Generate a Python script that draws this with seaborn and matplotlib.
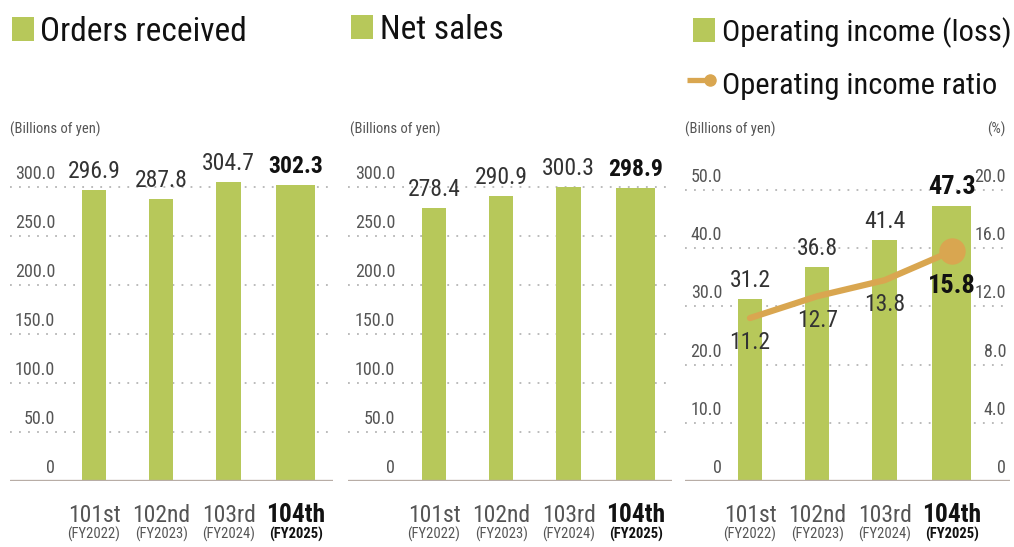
import matplotlib
matplotlib.use("Agg")
import matplotlib.pyplot as plt
from matplotlib import font_manager
from matplotlib.lines import Line2D
from matplotlib.patches import Rectangle
import seaborn as sns
import pandas as pd

# data
periods = ["101st", "102nd", "103rd", "104th"]
fiscal_years = ["(FY2022)", "(FY2023)", "(FY2024)", "(FY2025)"]
orders_received = [296.9, 287.8, 304.7, 302.3]
net_sales = [278.4, 290.9, 300.3, 298.9]
operating_income = [31.2, 36.8, 41.4, 47.3]
operating_ratio = [11.2, 12.7, 13.8, 15.8]

sales_ticks = [0, 50, 100, 150, 200, 250, 300]
income_ticks = [0, 10, 20, 30, 40, 50]
ratio_ticks = [0, 4, 8, 12, 16, 20]

GREEN = "#b7c85a"
GOLD = "#d9a650"
GRID = "#b5b5b5"
BASE = "#b8ada6"
TXT = "#333333"
TICK = "#555555"

sns.set_theme(style="white")

# the reference uses a narrow face; take a condensed one if there is one
fonts = font_manager.fontManager.ttflist
names = {f.name for f in fonts}
FONT, SCALE = "Lato", 0.9
for cand in ["Roboto Condensed", "Liberation Sans Narrow", "Noto Sans Condensed",
             "Open Sans Condensed"]:
    if cand in names:
        FONT, SCALE = cand, 1.0
        break
plt.rcParams["font.family"] = [FONT, "DejaVu Sans"]

HEAD = 24 * (0.81 if SCALE < 1 else 1.0)
HEAD3 = HEAD * 0.915  # the long headers of panel 3 have to fit the figure
VAL = 17 * SCALE
TK = 13 * SCALE
SMALL = 10.5 * SCALE

W, H = 1014, 547
fig = plt.figure(figsize=(W / 100, H / 100), dpi=100)

AX_TOP = 150
BASE_Y = 481
STEP = 67.3  # px between bar centres


def px_axes(x0, x1):
    return fig.add_axes([x0 / W, 1 - BASE_Y / H, (x1 - x0) / W, (BASE_Y - AX_TOP) / H])


def fmt(t):
    return "0" if t == 0 else f"{t:.1f}"


def bar_panel(ax, values, ticks, grid_px, x0, x1, first_center, label_px, big=1.0):
    df = pd.DataFrame({"period": periods, "value": values})
    sns.barplot(data=df, x="period", y="value", ax=ax, color=GREEN, width=0.36,
                saturation=1, errorbar=None, linewidth=0, zorder=2)
    # the current year is drawn as a wider bar
    p = ax.patches[-1]
    cx = p.get_x() + p.get_width() / 2
    p.set_width(0.58)
    p.set_x(cx - 0.29)

    left = -(first_center - x0) / STEP
    ax.set_xlim(left, left + (x1 - x0) / STEP)
    ax.set_ylim(0, ticks[-1] * (BASE_Y - AX_TOP) / (BASE_Y - grid_px))
    ax.set_axis_off()

    for t in ticks[1:]:
        ax.axhline(t, color=GRID, lw=1.3, ls=(0, (1, 4)), zorder=0)
    ax.axhline(0, color=BASE, lw=2.4, zorder=3)

    lx = (label_px - x0) / (x1 - x0)
    for t in ticks:
        ax.annotate(fmt(t), xy=(lx, t), xycoords=("axes fraction", "data"),
                    xytext=(0, 4), textcoords="offset pixels",
                    ha="right", va="bottom", fontsize=TK, color=TICK)

    for i, v in enumerate(values):
        last = i == len(values) - 1
        ax.annotate(f"{v:.1f}", xy=(i, v), xytext=(0, 12), textcoords="offset pixels",
                    ha="center", va="baseline",
                    fontsize=VAL * big if last else VAL,
                    fontweight="bold" if last else "normal",
                    color="#111111" if last else TXT)

    for i, (p_lab, fy) in enumerate(zip(periods, fiscal_years)):
        last = i == len(periods) - 1
        ax.annotate(p_lab, xy=(i, 0), xytext=(0, -41), textcoords="offset pixels",
                    ha="center", va="baseline", fontsize=VAL * 1.08 if last else VAL,
                    fontweight="bold" if last else "normal",
                    color="#111111" if last else TICK)
        ax.annotate(fy, xy=(i, 0), xytext=(0, -58), textcoords="offset pixels",
                    ha="center", va="baseline", fontsize=SMALL,
                    fontweight="bold" if last else "normal",
                    color="#111111" if last else TICK)
    return ax


def header(x_sq, y_sq, x_txt, y_base, text, size):
    fig.add_artist(Rectangle((x_sq / W, 1 - (y_sq + 24) / H), 22 / W, 24 / H,
                             transform=fig.transFigure, color=GREEN, lw=0))
    fig.text(x_txt / W, 1 - y_base / H, text, fontsize=size, color="#111111",
             ha="left", va="baseline")


# panel 1: orders received
ax1 = px_axes(10, 333)
bar_panel(ax1, orders_received, sales_ticks, 187, 10, 333, 94, 55)
header(12, 17, 40, 41, "Orders received", HEAD)
fig.text(10 / W, 1 - 129 / H, "(Billions of yen)", fontsize=SMALL, color=TICK, va="center")

# panel 2: net sales
ax2 = px_axes(348, 672)
bar_panel(ax2, net_sales, sales_ticks, 187, 348, 672, 434, 395)
header(351, 15, 380, 39, "Net sales", HEAD)
fig.text(350 / W, 1 - 129 / H, "(Billions of yen)", fontsize=SMALL, color=TICK, va="center")

# panel 3: operating income and ratio
ax3 = px_axes(685, 1010)
bar_panel(ax3, operating_income, income_ticks, 190, 685, 1010, 750, 722, big=1.12)
header(693, 18, 722, 41, "Operating income (loss)", HEAD3)
fig.text(685 / W, 1 - 129 / H, "(Billions of yen)", fontsize=SMALL, color=TICK, va="center")
fig.text(1006 / W, 1 - 129 / H, "(%)", fontsize=SMALL, color=TICK, va="center", ha="right")

ax3r = ax3.twinx()
ratio_df = pd.DataFrame({"period": periods, "ratio": operating_ratio})
sns.lineplot(data=ratio_df, x="period", y="ratio", ax=ax3r, color=GOLD, lw=4.5,
             marker="o", markevery=[len(periods) - 1], markersize=19,
             markeredgewidth=0, legend=False)
ax3r.set_xlim(ax3.get_xlim())
ax3r.set_ylim(0, ratio_ticks[-1] * (BASE_Y - AX_TOP) / (BASE_Y - 190))
ax3r.set_axis_off()
for t in ratio_ticks:
    ax3r.annotate(fmt(t), xy=(0.988, t), xycoords=("axes fraction", "data"),
                  xytext=(0, 4), textcoords="offset pixels",
                  ha="right", va="bottom", fontsize=TK, color=TICK)
for i, r in enumerate(operating_ratio):
    last = i == len(operating_ratio) - 1
    ax3r.annotate(f"{r:.1f}", xy=(i, r), xytext=(0, -42 if last else -31),
                  textcoords="offset pixels", ha="center", va="baseline",
                  fontsize=VAL * 1.12 if last else VAL,
                  fontweight="bold" if last else "normal",
                  color="#111111" if last else TXT, zorder=5)

# legend entry for the ratio line
fig.add_artist(Line2D([687 / W, 710 / W], [1 - 80 / H] * 2, color=GOLD, lw=3.8,
                      solid_capstyle="butt", transform=fig.transFigure))
fig.add_artist(Line2D([710 / W], [1 - 80 / H], marker="o", ms=8, color=GOLD, lw=0,
                      transform=fig.transFigure))
fig.text(722 / W, 1 - 94 / H, "Operating income ratio", fontsize=HEAD3, color="#111111",
         ha="left", va="baseline")

fig.savefig("out.png", dpi=100, facecolor="white")
